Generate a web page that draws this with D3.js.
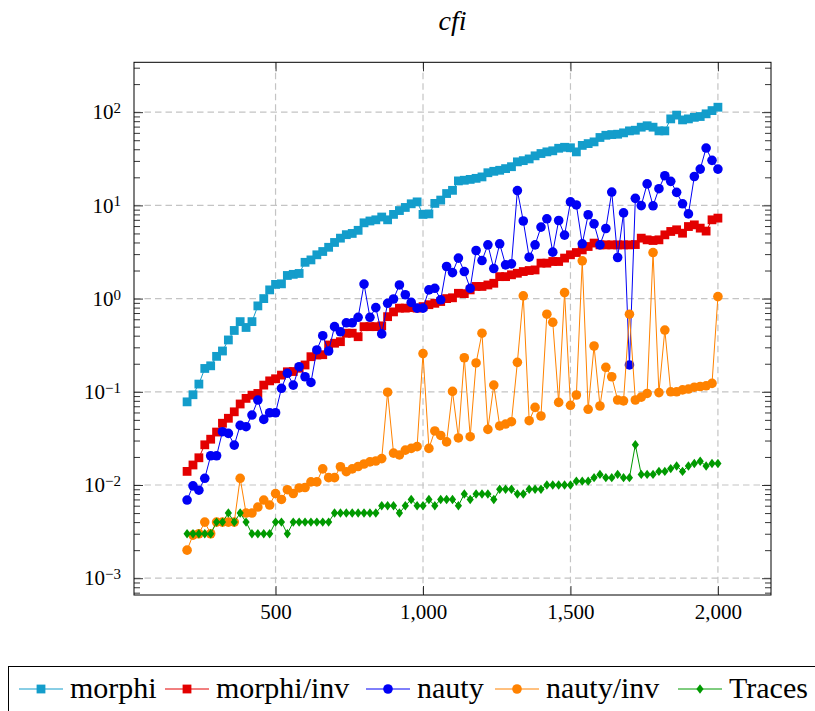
<!DOCTYPE html>
<html>
<head>
<meta charset="utf-8">
<script src="https://cdn.jsdelivr.net/npm/d3@7"></script>
<style>
  body { margin: 0; background: #fff; }
</style>
</head>
<body>
<svg id="chart" width="815" height="711"></svg>
<script>
// graph sizes (x axis)
var sizes = [200, 220, 240, 260, 280, 300, 320, 340, 360, 380,
    400, 420, 440, 460, 480, 500, 520, 540, 560, 580,
    600, 620, 640, 660, 680, 700, 720, 740, 760, 780,
    800, 820, 840, 860, 880, 900, 920, 940, 960, 980,
    1000, 1020, 1040, 1060, 1080, 1100, 1120, 1140, 1160, 1180,
    1200, 1220, 1240, 1260, 1280, 1300, 1320, 1340, 1360, 1380,
    1400, 1420, 1440, 1460, 1480, 1500, 1520, 1540, 1560, 1580,
    1600, 1620, 1640, 1660, 1680, 1700, 1720, 1740, 1760, 1780,
    1800, 1820, 1840, 1860, 1880, 1900, 1920, 1940, 1960, 1980, 2000];

// running times
var morphi = [0.078, 0.093, 0.121, 0.178, 0.19, 0.24, 0.274, 0.36, 0.455, 0.566,
    0.49, 0.566, 0.835, 1.0, 1.24, 1.42, 1.44, 1.77, 1.82, 1.86,
    2.45, 2.6, 2.95, 3.2, 3.55, 4.0, 4.45, 4.85, 5.0, 5.4,
    6.5, 6.8, 7.0, 7.5, 7.0, 8.0, 8.8, 9.5, 10.4, 10.9,
    8.0, 8.1, 10.5, 11.4, 13.4, 14.5, 18.3, 18.6, 19.0, 19.5,
    20.2, 22.4, 23.2, 23.8, 24.8, 26.0, 29.3, 30.2, 31.5, 34,
    36, 37.5, 38.5, 41, 42, 41.5, 37.5, 44, 46, 48,
    53.5, 56.5, 57.5, 58, 60, 63, 64, 69, 71.5, 69,
    63, 63, 84.7, 93, 82.6, 84.7, 88, 89.8, 96, 104, 113];

var morphiInv = [0.014, 0.0164, 0.0196, 0.027, 0.031, 0.037, 0.046, 0.052, 0.061, 0.074,
    0.085, 0.092, 0.096, 0.118, 0.131, 0.138, 0.151, 0.164, 0.165, 0.179,
    0.194, 0.238, 0.248, 0.25, 0.318, 0.332, 0.345, 0.425, 0.425, 0.39,
    0.50, 0.50, 0.50, 0.51, 0.64, 0.72, 0.79, 0.79, 0.80, 0.79,
    0.82, 0.86, 0.89, 0.93, 1.0, 1.02, 1.14, 1.13, 1.24, 1.35,
    1.35, 1.40, 1.46, 1.72, 1.72, 1.8, 1.87, 1.95, 2.0, 2.03,
    2.4, 2.4, 2.5, 2.5, 2.72, 2.95, 3.12, 3.33, 3.62, 3.94,
    3.77, 3.77, 3.77, 3.77, 3.77, 3.77, 3.8, 4.45, 4.27, 4.2,
    4.27, 4.83, 5.25, 5.47, 5.03, 5.93, 6.18, 5.7, 5.3, 7.0, 7.3];

var nauty = [0.0069, 0.0098, 0.0088, 0.0118, 0.0206, 0.0206, 0.0373, 0.0358, 0.0268, 0.0436,
    0.0422, 0.0563, 0.0816, 0.0506, 0.0596, 0.0596, 0.109, 0.158, 0.118, 0.186,
    0.145, 0.126, 0.281, 0.40, 0.274, 0.50, 0.44, 0.55, 0.55, 0.63,
    1.43, 0.63, 0.80, 0.418, 0.89, 0.99, 1.40, 1.10, 0.91, 0.79,
    0.79, 1.24, 1.29, 0.97, 2.21, 1.90, 2.72, 1.95, 1.29, 3.28,
    2.56, 3.77, 2.10, 3.87, 2.30, 2.36, 14.4, 6.8, 2.78, 3.77,
    5.85, 7.18, 3.15, 6.88, 4.80, 10.9, 10.1, 3.87, 7.93, 6.34,
    3.77, 5.65, 13.9, 2.76, 8.3, 0.194, 11.9, 9.95, 17.0, 9.9,
    15.1, 20.8, 18.1, 13.8, 10.4, 8.1, 20.4, 24.5, 41.2, 30.4, 24.5];

var nautyInv = [0.002, 0.0029, 0.003, 0.004, 0.003, 0.004, 0.004, 0.004, 0.004, 0.0118,
    0.005, 0.005, 0.0058, 0.0069, 0.0061, 0.0081, 0.007, 0.0089, 0.0081, 0.0093,
    0.0094, 0.0108, 0.0108, 0.0149, 0.012, 0.012, 0.0157, 0.0139, 0.0149, 0.0158,
    0.0168, 0.0177, 0.0181, 0.0192, 0.099, 0.022, 0.021, 0.0237, 0.0247, 0.0258,
    0.257, 0.0247, 0.038, 0.034, 0.029, 0.101, 0.032, 0.232, 0.033, 0.204,
    0.425, 0.0395, 0.118, 0.043, 0.0451, 0.0478, 0.207, 1.07, 0.049, 0.068,
    0.055, 0.68, 0.557, 0.077, 1.16, 0.0716, 0.0924, 2.54, 0.0649, 0.31,
    0.0704, 0.183, 0.145, 0.0817, 0.080, 0.68, 0.0817, 0.0876, 0.096, 3.12,
    0.098, 0.46, 0.10, 0.10, 0.105, 0.107, 0.112, 0.114, 0.116, 0.123, 1.05];

var traces = [0.003, 0.003, 0.003, 0.003, 0.003, 0.004, 0.004, 0.005, 0.004, 0.005,
    0.004, 0.003, 0.003, 0.003, 0.003, 0.004, 0.004, 0.003, 0.004, 0.004,
    0.004, 0.004, 0.004, 0.004, 0.004, 0.005, 0.005, 0.005, 0.005, 0.005,
    0.005, 0.005, 0.005, 0.006, 0.006, 0.006, 0.005, 0.006, 0.007, 0.006,
    0.006, 0.007, 0.006, 0.007, 0.007, 0.007, 0.006, 0.008, 0.007, 0.008,
    0.008, 0.008, 0.007, 0.009, 0.009, 0.009, 0.008, 0.008, 0.009, 0.009,
    0.009, 0.010, 0.010, 0.010, 0.010, 0.010, 0.011, 0.011, 0.011, 0.012,
    0.013, 0.012, 0.012, 0.013, 0.012, 0.012, 0.027, 0.013, 0.013, 0.013,
    0.014, 0.014, 0.015, 0.016, 0.014, 0.016, 0.017, 0.018, 0.016, 0.017, 0.017];

var xTicks = [500, 1000, 1500, 2000];
var yTicks = [1e-3, 1e-2, 1e-1, 1e0, 1e1, 1e2];
var yExponents = ["\u22123", "\u22122", "\u22121", "0", "1", "2"];
var legendStarts = [19, 165, 366, 495, 678];

var series = [
    {name: "morphi", values: morphi, color: "#139dcb", mark: "square"},
    {name: "morphi/inv", values: morphiInv, color: "#e30000", mark: "square"},
    {name: "nauty", values: nauty, color: "#0000f5", mark: "circle"},
    {name: "nauty/inv", values: nautyInv, color: "#ff8200", mark: "circle"},
    {name: "Traces", values: traces, color: "#009a00", mark: "diamond"}
];

var FONT = "'Liberation Serif'";
var plot = {left: 134, right: 771, top: 62.3, bottom: 595};
var svg = d3.select("#chart");

var x = d3.scaleLinear()
    .domain([20, 2180])
    .range([plot.left, plot.right]);

var y = d3.scaleLog()
    .domain([Math.pow(10, -3.18), Math.pow(10, 2.535)])
    .range([plot.bottom, plot.top]);

// dashed major grid
var grid = svg.append("g")
    .attr("stroke", "#c4c4c4")
    .attr("stroke-width", 1.2)
    .attr("stroke-dasharray", "6.5,4");

grid.selectAll("line.vgrid")
    .data(xTicks)
    .enter()
    .append("line")
    .classed("vgrid", true)
    .attr("x1", function(d){ return x(d); })
    .attr("x2", function(d){ return x(d); })
    .attr("y1", plot.top)
    .attr("y2", plot.bottom);

grid.selectAll("line.hgrid")
    .data(yTicks)
    .enter()
    .append("line")
    .classed("hgrid", true)
    .attr("x1", plot.left)
    .attr("x2", plot.right)
    .attr("y1", function(d){ return y(d); })
    .attr("y2", function(d){ return y(d); });

// log minor ticks 2..9 on both vertical sides
var minor = [];
d3.range(-4, 3).forEach(function(e){
    d3.range(2, 10).forEach(function(m){
        var v = m * Math.pow(10, e);
        if (v > y.domain()[0] && v < y.domain()[1]) minor.push(v);
    });
});

function styleAxis(g) {
    g.select(".domain").remove();
    g.attr("font-family", null).attr("font-size", null);
    g.selectAll(".tick line").attr("stroke", "#000").attr("stroke-width", 0.8);
    g.selectAll(".tick text").style("font-family", FONT).attr("fill", "#000");
}

svg.append("g")
    .attr("transform", "translate(0," + plot.bottom + ")")
    .call(d3.axisBottom(x).tickValues(xTicks).tickFormat(d3.format(","))
        .tickSizeInner(-9).tickSizeOuter(0).tickPadding(9))
    .call(styleAxis)
    .selectAll("text")
    .style("font-size", "21px");

svg.append("g")
    .attr("transform", "translate(0," + plot.top + ")")
    .call(d3.axisTop(x).tickValues(xTicks).tickFormat("")
        .tickSizeInner(-9).tickSizeOuter(0))
    .call(styleAxis);

var yAxis = svg.append("g")
    .attr("transform", "translate(" + plot.left + ",0)")
    .call(d3.axisLeft(y).tickValues(yTicks).tickFormat("")
        .tickSizeInner(-9).tickSizeOuter(0).tickPadding(13))
    .call(styleAxis);

yAxis.selectAll(".tick text")
    .style("font-size", "21px")
    .attr("dy", "0.32em")
    .each(function(d, i){
        var t = d3.select(this);
        t.append("tspan").text("10");
        t.append("tspan").attr("dy", "-0.42em").style("font-size", "15px").text(yExponents[i]);
    });

svg.append("g")
    .attr("transform", "translate(" + plot.right + ",0)")
    .call(d3.axisRight(y).tickValues(yTicks).tickFormat("")
        .tickSizeInner(-9).tickSizeOuter(0))
    .call(styleAxis);

svg.append("g")
    .attr("transform", "translate(" + plot.left + ",0)")
    .call(d3.axisLeft(y).tickValues(minor).tickFormat("").tickSizeInner(-6).tickSizeOuter(0))
    .call(styleAxis);

svg.append("g")
    .attr("transform", "translate(" + plot.right + ",0)")
    .call(d3.axisRight(y).tickValues(minor).tickFormat("").tickSizeInner(-6).tickSizeOuter(0))
    .call(styleAxis);

// marks
function drawMark(sel, mark) {
    if (mark === "square") {
        sel.append("rect").attr("x", -4.4).attr("y", -4.4).attr("width", 8.8).attr("height", 8.8);
    } else if (mark === "circle") {
        sel.append("circle").attr("r", 4.8);
    } else {
        sel.append("path").attr("d", "M0,-4.7L3.6,0L0,4.7L-3.6,0Z");
    }
}

var line = d3.line()
    .x(function(d, i){ return x(sizes[i]); })
    .y(function(d){ return y(d); });

var plotArea = svg.append("g");

series.forEach(function(s) {
    var g = plotArea.append("g");

    g.append("path")
        .datum(s.values)
        .attr("fill", "none")
        .attr("stroke", s.color)
        .attr("stroke-width", 1)
        .attr("d", line);

    var marks = g.selectAll("g.mark")
        .data(s.values)
        .enter()
        .append("g")
        .classed("mark", true)
        .attr("fill", s.color)
        .attr("transform", function(d, i){ return "translate(" + x(sizes[i]) + "," + y(d) + ")"; });

    drawMark(marks, s.mark);
});

// frame
svg.append("rect")
    .attr("x", plot.left)
    .attr("y", plot.top)
    .attr("width", plot.right - plot.left)
    .attr("height", plot.bottom - plot.top)
    .attr("fill", "none")
    .attr("stroke", "#000")
    .attr("stroke-width", 1);

// title
svg.append("text")
    .attr("x", (plot.left + plot.right) / 2)
    .attr("y", 30)
    .attr("text-anchor", "middle")
    .style("font-family", FONT)
    .style("font-size", "28px")
    .style("font-style", "italic")
    .text("cfi");

// legend
var legend = svg.append("g");

legend.append("rect")
    .attr("x", 8.5)
    .attr("y", 666.5)
    .attr("width", 830)
    .attr("height", 80)
    .attr("fill", "#fff")
    .attr("stroke", "#000")
    .attr("stroke-width", 1);

var entries = legend.selectAll("g.entry")
    .data(series)
    .enter()
    .append("g")
    .classed("entry", true)
    .attr("transform", function(d, i){ return "translate(" + legendStarts[i] + ",689)"; });

entries.append("line")
    .attr("x1", 0)
    .attr("x2", 44)
    .attr("stroke", function(d){ return d.color; })
    .attr("stroke-width", 1);

entries.each(function(d){
    var m = d3.select(this).append("g")
        .attr("transform", "translate(22,0)")
        .attr("fill", d.color);
    drawMark(m, d.mark);
});

entries.append("text")
    .attr("x", 51)
    .attr("y", 9)
    .style("font-family", FONT)
    .style("font-size", "30px")
    .text(function(d){ return d.name; });
</script>
</body>
</html>
